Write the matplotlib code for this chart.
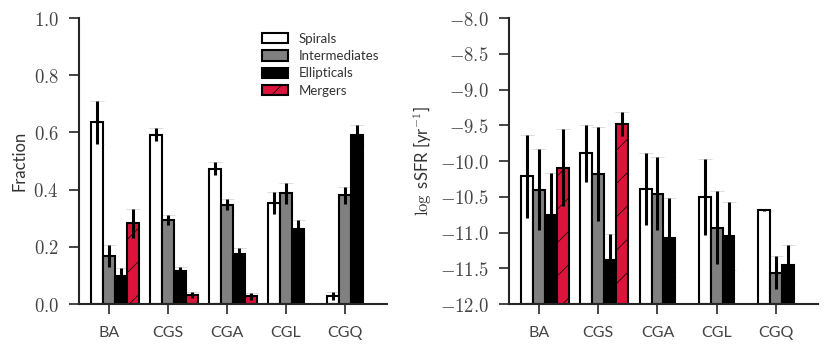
import matplotlib
matplotlib.use("Agg")
import matplotlib.pyplot as plt
import numpy as np
from matplotlib.ticker import FuncFormatter
from matplotlib.patches import Patch

plt.rcParams['font.family'] = ['Lato', 'DejaVu Sans']
plt.rcParams['mathtext.fontset'] = 'cm'
plt.rcParams['hatch.linewidth'] = 0.5
plt.rcParams['hatch.color'] = '#8a1028'

groups = ['BA', 'CGS', 'CGA', 'CGL', 'CGQ']
types = ['Spirals', 'Intermediates', 'Ellipticals', 'Mergers']

# fraction of each morphology per environment
frac = {
    'Spirals':       [0.636, 0.592, 0.474, 0.353, 0.029],
    'Intermediates': [0.168, 0.294, 0.348, 0.387, 0.380],
    'Ellipticals':   [0.098, 0.114, 0.175, 0.261, 0.591],
    'Mergers':       [0.282, 0.031, 0.027, np.nan, np.nan],
}
frac_err = {
    'Spirals':       [0.075, 0.023, 0.024, 0.039, 0.015],
    'Intermediates': [0.037, 0.018, 0.020, 0.036, 0.031],
    'Ellipticals':   [0.027, 0.014, 0.020, 0.034, 0.034],
    'Mergers':       [0.050, 0.010, 0.013, np.nan, np.nan],
}

# log sSFR per morphology per environment
ssfr = {
    'Spirals':       [-10.21, -9.89, -10.39, -10.50, -10.69],
    'Intermediates': [-10.40, -10.18, -10.46, -10.93, -11.56],
    'Ellipticals':   [-10.76, -11.38, -11.07, -11.05, -11.45],
    'Mergers':       [-10.09, -9.48, np.nan, np.nan, np.nan],
}
ssfr_err = {
    'Spirals':       [0.58, 0.40, 0.50, 0.53, 0.01],
    'Intermediates': [0.57, 0.66, 0.51, 0.51, 0.23],
    'Ellipticals':   [0.59, 0.36, 0.55, 0.48, 0.27],
    'Mergers':       [0.54, 0.17, np.nan, np.nan, np.nan],
}

colors = {'Spirals': 'white', 'Intermediates': '#808080',
          'Ellipticals': 'black', 'Mergers': '#dc143c'}
hatches = {'Spirals': None, 'Intermediates': None, 'Ellipticals': None, 'Mergers': '/'}

fig = plt.figure(figsize=(8.3, 3.54), dpi=100)
ax1 = fig.add_axes([0.0952, 0.141, 0.371, 0.808])
ax2 = fig.add_axes([0.613, 0.141, 0.3725, 0.808])

x = np.arange(len(groups))
w = 0.2


def draw(ax, vals, errs, bottom):
    for k, t in enumerate(types):
        pos = x + (k - 1) * w
        v = np.array(vals[t], dtype=float)
        e = np.array(errs[t], dtype=float)
        ok = ~np.isnan(v)
        ax.bar(pos[ok], v[ok] - bottom, w, bottom=bottom, color=colors[t],
               edgecolor='black', linewidth=1.5, hatch=hatches[t], zorder=2)
        eb = ax.errorbar(pos[ok], v[ok], yerr=e[ok], fmt='none', ecolor='black',
                         elinewidth=2.2, capsize=5, capthick=0.6, zorder=3)
        for c in eb[1]:
            c.set_color('#d8d8d8')
            c.set_markeredgecolor('#d8d8d8')
            c.set_zorder(1.5)


def style(ax, lo, hi, step):
    for s in ['top', 'right']:
        ax.spines[s].set_visible(False)
    for s in ['left', 'bottom']:
        ax.spines[s].set_linewidth(1.5)
        ax.spines[s].set_color('#262626')
    ax.set_xlim(-0.51, 4.71)
    ax.set_ylim(lo, hi)
    ax.set_xticks(x)
    ax.set_xticklabels(groups, fontsize=11.5, color='#333333')
    ax.set_yticks(np.arange(lo, hi + step / 2, step))
    ax.yaxis.set_major_formatter(FuncFormatter(lambda v, p: '$%.1f$' % v))
    ax.tick_params(axis='both', direction='out', length=7.5, width=1.2,
                   color='#262626', labelcolor='#444444')
    ax.tick_params(axis='y', labelsize=13.5, pad=7)
    ax.tick_params(axis='x', pad=8)


draw(ax1, frac, frac_err, 0.0)
style(ax1, 0.0, 1.0, 0.2)
ax1.set_ylabel('Fraction', fontsize=12, color='#333333', labelpad=4)

draw(ax2, ssfr, ssfr_err, -12.0)
style(ax2, -12.0, -8.0, 0.5)
ax2.set_ylabel(r'$\log$ sSFR [yr$^{-1}$]', fontsize=12, color='#333333', labelpad=5)

handles = [Patch(facecolor=colors[t], edgecolor='black', linewidth=1.5,
                 hatch=hatches[t]) for t in types]
ax1.legend(handles, types, loc='upper left', bbox_to_anchor=(0.555, 0.99),
           frameon=False, fontsize=9.5, handlelength=2.0, handleheight=0.8,
           labelspacing=0.4, handletextpad=0.8, labelcolor='#333333')

fig.savefig('out.png', dpi=100)
